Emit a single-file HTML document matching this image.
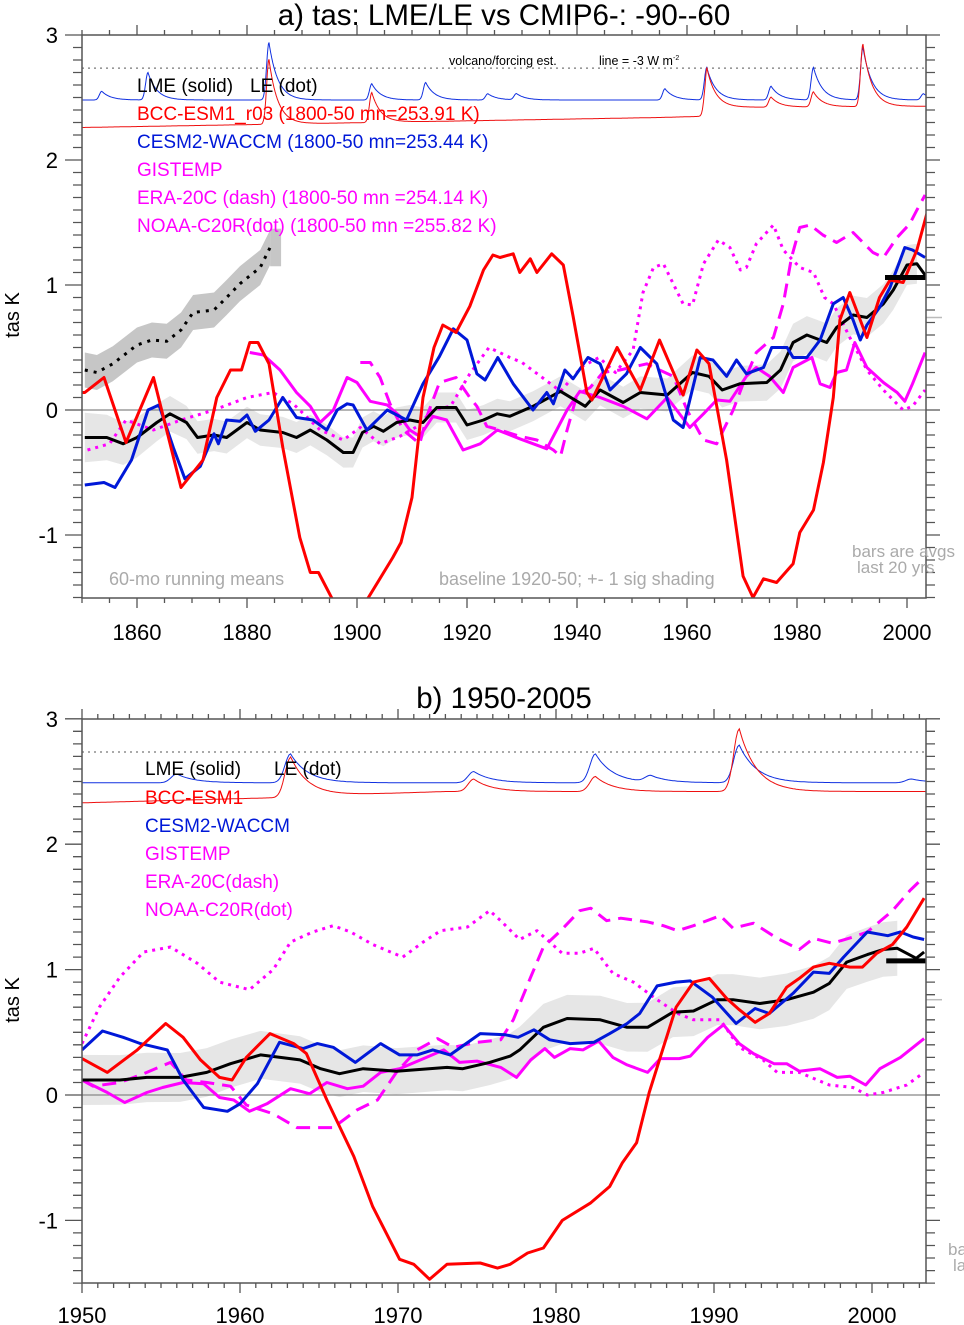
<!DOCTYPE html>
<html><head><meta charset="utf-8">
<style>
html,body{margin:0;padding:0;background:#fff;}
svg{display:block;font-family:"Liberation Sans",Arial,sans-serif;}
</style></head>
<body>
<svg id="chart" xmlns="http://www.w3.org/2000/svg" width="964" height="1325" viewBox="0 0 964 1325">
<defs>
<clipPath id="clipA"><rect x="82" y="35" width="844" height="563"/></clipPath>
<clipPath id="clipB"><rect x="82" y="719" width="844" height="564"/></clipPath>
</defs>
<g id="panelA"></g>
<g id="panelB"></g>
</svg>
<script>
// ---------------- Panel A data ----------------
const aRedYr=[1850,1850.5,1854,1858,1863,1868,1872,1874.5,1877,1879,1880.5,1882,1884,1886.5,1889.6,1891.5,1893,1895.6,1897,1900,1901.8,1906.5,1908,1910,1912,1914,1915.6,1918,1920.5,1923,1924.7,1926,1928.4,1929.6,1931.5,1932.7,1935.4,1937.5,1939.3,1941.8,1942.7,1947.3,1951.5,1955,1959.3,1961.8,1964,1967.2,1970.2,1972,1973.9,1976.3,1979.3,1980.5,1983,1984.8,1986.6,1987.8,1989.6,1992.7,1995,1996.9,1999.3,2001.8,2003.6];
const aRedV=[0.14,0.14,0.26,-0.26,0.26,-0.62,-0.4,0.1,0.32,0.32,0.54,0.54,0.37,-0.3,-1.02,-1.3,-1.3,-1.52,-1.75,-1.8,-1.52,-1.18,-1.06,-0.7,0.1,0.5,0.68,0.62,0.83,1.12,1.24,1.22,1.25,1.1,1.21,1.1,1.25,1.16,0.75,0.14,0.08,0.5,0.16,0.56,0.12,0.48,0.37,-0.4,-1.33,-1.5,-1.35,-1.38,-1.23,-0.98,-0.8,-0.42,0.1,0.72,0.94,0.58,0.9,1.04,1.02,1.28,1.57];
const aBlueYr=[1850.5,1854,1856,1859,1862,1864,1866.6,1868.7,1871.5,1874,1874.8,1876.3,1878.7,1880,1881.5,1884,1886.5,1889,1892,1894.5,1896.4,1898.2,1899.3,1901.8,1905.5,1909,1912,1915,1917.5,1920,1921.8,1923.3,1925.6,1928.4,1932,1934.5,1935.7,1937.8,1939.3,1942,1944.2,1946,1949,1951.5,1954.5,1957.5,1959.3,1962.4,1964.7,1967.2,1969,1970.8,1973.9,1975.4,1978.2,1979.3,1981.8,1984.2,1986.6,1988.4,1990.2,1991.5,1992.7,1995,1996.9,1999.6,2001,2003.3];
const aBlueV=[-0.6,-0.58,-0.62,-0.4,0,0.04,-0.3,-0.55,-0.45,-0.19,-0.27,-0.08,-0.09,-0.04,-0.17,-0.08,0.1,-0.06,-0.08,-0.16,0,0.05,0.04,-0.16,0,-0.08,0.21,0.43,0.65,0.56,0.29,0.24,0.42,0.21,0,0.14,0.05,0.32,0.25,0.42,0.37,0.16,0.29,0.5,0.37,-0.08,-0.14,0.42,0.4,0.27,0.4,0.29,0.34,0.5,0.5,0.42,0.42,0.56,0.85,0.9,0.72,0.56,0.68,0.82,0.98,1.3,1.28,1.22];
const aBlkYr=[1850.5,1854.5,1857.5,1860,1863.6,1866,1869,1871,1874,1876.3,1880,1882.4,1886.5,1889,1891.5,1894.5,1897.5,1899.3,1901,1903,1904.8,1907.2,1909.6,1912,1914.5,1918,1920,1923,1925.5,1927.8,1932,1937,1941.5,1944.2,1948.4,1951.5,1956.4,1961,1964,1966.4,1969.6,1974.5,1977,1979.3,1981.8,1985.4,1987.2,1990.2,1992.7,1995.7,1997.5,2000,2001.8,2003.3];
const aBlkV=[-0.22,-0.22,-0.27,-0.22,-0.1,-0.03,-0.1,-0.22,-0.2,-0.22,-0.1,-0.16,-0.18,-0.22,-0.16,-0.24,-0.34,-0.34,-0.18,-0.13,-0.17,-0.1,-0.08,-0.1,0.02,0.02,-0.12,-0.08,-0.03,-0.05,0.03,0.15,0.03,0.16,0.06,0.14,0.12,0.3,0.27,0.16,0.21,0.22,0.32,0.54,0.6,0.54,0.66,0.76,0.74,0.85,0.96,1.16,1.17,1.08];
const aSigYr=[1850,1860,1870,1900,1940,1980,2002];
const aSigV=[0.2,0.16,0.13,0.12,0.12,0.15,0.16];
const aGisYr=[1880.5,1883,1886,1889,1891.5,1893.3,1895.7,1898.2,1900,1902.4,1905.5,1907.8,1909.6,1911.4,1913.8,1916.3,1919.3,1922.4,1925.5,1929.6,1934.5,1938.2,1940.5,1944.2,1948.4,1952.7,1956.4,1960.5,1963,1965.4,1967.8,1970.8,1972.6,1975,1977.5,1979.3,1982.7,1984.2,1986,1987.2,1989,1990.5,1992.7,1995.7,1998.2,1999.6,2001,2003.3];
const aGisV=[0.46,0.44,0.32,0.14,0.03,-0.1,0,0.26,0.22,0.07,0.04,-0.05,-0.16,-0.21,-0.05,-0.08,-0.32,-0.27,-0.16,-0.23,-0.31,0,0.15,0.1,0.03,-0.07,0.1,-0.14,-0.03,0.08,0.07,0.27,0.34,0.27,0.14,0.34,0.42,0.21,0.18,0.3,0.32,0.54,0.34,0.22,0.14,0.07,0.21,0.46];
const aEraYr=[1900.6,1902.4,1904.2,1906,1908.4,1911.4,1912.7,1915,1918,1920.5,1921.8,1923.6,1926,1929.6,1932.7,1935.7,1937,1938.2,1940,1942.4,1944.7,1947.8,1952.7,1955,1957.5,1960,1963,1965.4,1968.4,1970.2,1972.6,1975.7,1977.5,1979,1980.5,1982.4,1984.7,1987.2,1990.2,1993.8,1995.7,1998.2,2000.5,2001.8,2003.3];
const aEraV=[0.38,0.38,0.26,0.05,-0.16,-0.27,-0.05,0.22,0.26,0.1,0.03,-0.13,-0.16,-0.21,-0.24,-0.32,-0.37,-0.16,0.12,0.18,0.3,0.32,0.37,0.32,0.27,0,-0.24,-0.27,0,0.21,0.46,0.58,0.85,1.22,1.46,1.48,1.4,1.34,1.42,1.26,1.22,1.38,1.49,1.6,1.72];
const aNoaYr=[1851,1855,1858,1863,1868,1874,1880,1884.7,1888.4,1893.3,1897.5,1900.6,1904.2,1907.8,1911,1913.8,1917,1920.5,1924,1927.8,1930,1934,1937,1941,1944,1947,1950.2,1952,1953.9,1955.7,1959.3,1961,1963,1965.7,1967.8,1969.7,1970.8,1972.6,1975.7,1977.5,1980.5,1983,1985,1986.6,1989.6,1992.7,1995.7,1999.3,2001,2003.3];
const aNoaV=[-0.32,-0.27,-0.08,-0.16,-0.08,0,0.1,0.14,0.05,-0.16,-0.24,-0.14,-0.27,-0.21,-0.13,0,0.03,0.29,0.5,0.42,0.38,0.25,0.15,0.35,0.42,0.3,0.48,0.94,1.14,1.17,0.85,0.84,1.17,1.36,1.3,1.12,1.14,1.33,1.48,1.28,1.14,1.1,0.9,0.85,0.58,0.32,0.16,0,0.03,0.16];
const aLeYr=[1850.5,1852.7,1855.6,1860,1862.7,1865.4,1868,1870.2,1874,1876.3,1878.7,1882.4,1884.2];
const aLeV=[0.32,0.3,0.37,0.52,0.56,0.55,0.64,0.78,0.8,0.9,1.01,1.14,1.3];
const aVolYr=[1853.6,1862,1884,1902.7,1912.5,1923.8,1929,1956,1963.6,1975.3,1983,1992,2003];
const aVolBlue=[0.07,0.22,0.46,0.13,0.14,0.05,0.05,0.09,0.26,0.11,0.26,0.42,0.05];
const aVolRed=[0,0,0.52,0.24,0,0,0,0,0.32,0.08,0.12,0.5,0];
const aRedBaseYr=[1850,1955,1963.3,1963.6,2004];
const aRedBaseV=[2.26,2.34,2.35,2.42,2.43];
const aBlueBase=2.48;
const aBarVal=1.06, aGrayBarVal=0.74, aBarStart=1996;
const aXTicks=[1860,1880,1900,1920,1940,1960,1980,2000];
const yTicks=[-1,0,1,2,3];

// ---------------- Panel B data ----------------
const bRedYr=[1950,1951.6,1953.5,1955.3,1956.4,1957.5,1958.7,1959.5,1960.4,1961.9,1963.4,1964.2,1965.5,1967.2,1968.4,1970.1,1971,1972,1973.1,1975.2,1976.3,1977.1,1978.2,1979.2,1980.4,1982.2,1983.4,1984.2,1985.1,1985.9,1986.8,1987.6,1988.7,1989.7,1990.8,1991.6,1992.6,1993.5,1994.6,1995.4,1996.3,1997.3,1998.6,1999.4,2000.3,2001.3,2002.2,2003.3];
const bRedV=[0.29,0.18,0.36,0.57,0.46,0.28,0.14,0.12,0.3,0.49,0.41,0.33,-0.04,-0.49,-0.89,-1.31,-1.35,-1.47,-1.35,-1.34,-1.38,-1.35,-1.26,-1.22,-1.0,-0.86,-0.73,-0.54,-0.38,0.02,0.38,0.7,0.9,0.93,0.77,0.68,0.58,0.65,0.86,0.93,1.02,1.05,1.02,1.02,1.13,1.2,1.34,1.57];
const bBlueYr=[1950,1951.3,1952.6,1953.7,1955.4,1956.4,1957.7,1959.2,1960,1961.1,1962.5,1964,1964.9,1965.9,1967.3,1968.9,1970.1,1971.2,1972.2,1973.3,1975.2,1976.8,1977.6,1978.6,1979.6,1980.9,1982.4,1983.4,1984.5,1985.3,1986.4,1987.6,1988.5,1989.9,1991.4,1992.6,1993.5,1995,1996.3,1997.3,1998.2,1999.7,2001,2001.8,2002.6,2003.3];
const bBlueV=[0.36,0.51,0.46,0.41,0.36,0.12,-0.1,-0.13,-0.07,0.09,0.42,0.37,0.41,0.38,0.26,0.41,0.32,0.32,0.36,0.32,0.49,0.48,0.46,0.52,0.44,0.41,0.42,0.49,0.57,0.65,0.87,0.9,0.91,0.78,0.57,0.69,0.65,0.81,0.98,0.97,1.1,1.3,1.27,1.3,1.26,1.24];
const bBlkYr=[1950,1952.4,1954.1,1956.2,1957.9,1959.4,1961.3,1963.8,1965.1,1966.3,1967.8,1969.9,1973.1,1974.1,1975.8,1977.1,1977.7,1979.2,1980.7,1982.8,1984.5,1985.8,1987.4,1988.7,1990.2,1991.2,1992.9,1994.6,1996.3,1997.3,1998.4,1999.7,2000.7,2001.6,2002.8,2003.3];
const bBlkV=[0.12,0.12,0.14,0.14,0.18,0.25,0.32,0.28,0.21,0.17,0.21,0.19,0.22,0.21,0.26,0.31,0.36,0.54,0.61,0.6,0.54,0.54,0.66,0.67,0.76,0.76,0.73,0.76,0.82,0.89,1.06,1.12,1.16,1.17,1.09,1.14];
const bSigYr=[1950,1975,2002.3];
const bSigV=[0.2,0.18,0.22];
const bGisYr=[1950,1951.6,1952.7,1954.1,1955.1,1956.4,1957.7,1958.7,1959.6,1960.6,1961.7,1963.2,1964.4,1965.5,1966.8,1967.8,1968.9,1970.1,1971.8,1972.9,1973.9,1975,1976.5,1977.5,1978.4,1979.3,1979.9,1980.9,1981.7,1982.7,1983.6,1984.5,1985.8,1986.6,1987.8,1988.5,1989.6,1990.6,1991.6,1992.5,1993.8,1994.6,1995.4,1996.7,1997.8,1998.6,1999.6,2000.5,2001.8,2003.3];
const bGisV=[0.12,0.02,-0.06,0.02,0.06,0.1,0.09,-0.02,-0.04,-0.13,-0.07,0.05,0.01,0.1,0.05,0.07,0.18,0.21,0.3,0.36,0.26,0.27,0.22,0.14,0.28,0.37,0.3,0.37,0.36,0.43,0.3,0.24,0.18,0.29,0.29,0.31,0.46,0.56,0.41,0.33,0.25,0.25,0.19,0.21,0.14,0.15,0.08,0.21,0.3,0.45];
const bEraYr=[1950,1950.7,1952.4,1953.9,1955.6,1956.6,1957.9,1959.4,1960.4,1962.1,1963.6,1965.9,1967.4,1968.7,1969.9,1971.2,1972.5,1973.5,1975,1976.5,1977.3,1978.4,1979.2,1980.3,1981.5,1982.2,1983.2,1984.1,1985.8,1986.8,1987.7,1988.7,1990.4,1991.2,1992.5,1994,1995.4,1996.3,1997.5,1998.8,1999.7,2001.3,2002.4,2003.3];
const bEraV=[0.12,0.07,0.1,0.17,0.26,0.12,0.1,0.07,-0.08,-0.15,-0.26,-0.26,-0.12,-0.04,0.18,0.36,0.45,0.38,0.42,0.44,0.6,0.94,1.18,1.31,1.47,1.49,1.39,1.41,1.38,1.35,1.31,1.35,1.43,1.33,1.37,1.25,1.16,1.25,1.21,1.26,1.3,1.47,1.63,1.74];
const bNoaYr=[1950,1951.1,1952.4,1953.9,1955.6,1957.3,1958.7,1960.6,1962.1,1963.2,1964.6,1965.9,1967,1968.4,1970.3,1971.6,1972.7,1974.4,1975.8,1976.5,1977.7,1978.8,1980.4,1981.5,1982.4,1983.6,1984.9,1986.4,1987.7,1988.7,1990.4,1991.6,1993.1,1994,1995.4,1997.3,1998.8,1999.7,2000.7,2002.2,2003.3];
const bNoaV=[0.41,0.7,0.94,1.14,1.18,1.05,0.9,0.84,1.0,1.22,1.3,1.35,1.3,1.2,1.1,1.22,1.31,1.34,1.47,1.39,1.24,1.31,1.13,1.13,1.17,0.97,0.9,0.76,0.65,0.6,0.6,0.38,0.28,0.18,0.18,0.08,0.06,0,0.02,0.08,0.18];
const bVolYr=[1956,1963.2,1974.8,1982.5,1986,1991.6,2002.5];
const bVolBlue=[0.07,0.23,0.09,0.23,0.05,0.3,0.03];
const bVolRed=[0,0.32,0.1,0.12,0,0.5,0];
const bRedBaseYr=[1950,1962,1963.1,1963.3,1973,2004];
const bRedBaseV=[2.33,2.37,2.37,2.38,2.42,2.42];
const bBlueBase=2.49;
const bBarVal=1.07, bGrayBarVal=0.76, bBarStart=2000.9;
const bXTicks=[1950,1960,1970,1980,1990,2000];

// ---------------- helpers ----------------
const NS="http://www.w3.org/2000/svg";
function mk(parent,tag,attrs,text){const e=document.createElementNS(NS,tag);for(const k in attrs)e.setAttribute(k,attrs[k]);if(text!==undefined)e.textContent=text;parent.appendChild(e);return e;}
function interp(xs,vs,t){if(t<=xs[0])return vs[0];for(let i=1;i<xs.length;i++){if(t<=xs[i]){const f=(t-xs[i-1])/(xs[i]-xs[i-1]);return vs[i-1]+f*(vs[i]-vs[i-1]);}}return vs[vs.length-1];}
function pathFrom(xs,vs,X,Y){const n=Math.min(xs.length,vs.length);let d="";for(let i=0;i<n;i++){d+=(i?"L":"M")+X(xs[i]).toFixed(1)+","+Y(vs[i]).toFixed(1);}return d;}
function volcSeries(yrs,amps,baseFn,x0,x1,rise,tau){const xs=[],vs=[];for(let t=x0;t<=x1+1e-6;t+=0.1){let v=baseFn(t);for(let i=0;i<yrs.length;i++){const d=t-yrs[i];v+=amps[i]*(d<0?Math.exp(-(d*d)/(rise*rise)):Math.exp(-d/tau));}xs.push(t);vs.push(v);}return [xs,vs];}

function buildPanel(cfg){
  const g=cfg.g;const X=cfg.X,Y=cfg.Y;
  const plot=mk(g,"g",{"clip-path":"url(#"+cfg.clip+")"});
  
  
  const sx=[],up=[],lo=[];
  const nb=Math.min(cfg.blkYr.length,cfg.blkV.length);
  for(let i=0;i<nb;i++){if(cfg.blkYr[i]>cfg.sigEnd)break;const s=interp(cfg.sigYr,cfg.sigV,cfg.blkYr[i]);sx.push(cfg.blkYr[i]);up.push(cfg.blkV[i]+s);lo.push(cfg.blkV[i]-s);}
  let d=pathFrom(sx,up,X,Y);for(let i=sx.length-1;i>=0;i--)d+="L"+X(sx[i]).toFixed(1)+","+Y(lo[i]).toFixed(1);
  const sh=mk(plot,"path",{d:d+"Z",fill:"#e6e6e6",stroke:"none"});
  
  
  if(cfg.leYr){
    const lx=cfg.leYr.slice(),lu=cfg.leV.map(v=>v+0.14),ll=cfg.leV.map(v=>v-0.14);
    let dl=pathFrom(lx,lu,X,Y);for(let i=lx.length-1;i>=0;i--)dl+="L"+X(lx[i]).toFixed(1)+","+Y(ll[i]).toFixed(1);
    const lb=mk(plot,"path",{d:dl+"Z",fill:"#c6c6c6"});
    
    
    const blk=mk(plot,"rect",{x:X(1884.2),y:Y(1.45),width:X(1886.2)-X(1884.2),height:Y(1.15)-Y(1.45),fill:"#c6c6c6"});
    
    
  }
  const z=mk(plot,"line",{x1:82,x2:926,y1:Y(0),y2:Y(0),stroke:"#888","stroke-width":1.3});
  
  
  const vl=mk(plot,"line",{x1:82,x2:926,y1:Y(2.735),y2:Y(2.735),stroke:"#777","stroke-width":1.2,"stroke-dasharray":"2 4"});
  
  
  const vb=volcSeries(cfg.volYr,cfg.volBlue,()=>cfg.blueBase,cfg.x0,cfg.x1,cfg.rise,cfg.tau);
  const vbp=mk(plot,"path",{d:pathFrom(vb[0],vb[1],X,Y),fill:"none",stroke:"#1030e0","stroke-width":1});
  
  
  const vr=volcSeries(cfg.volYr,cfg.volRed,t=>interp(cfg.redBaseYr,cfg.redBaseV,t),cfg.x0,cfg.x1,cfg.rise,cfg.tau);
  const vrp=mk(plot,"path",{d:pathFrom(vr[0],vr[1],X,Y),fill:"none",stroke:"#ee1010","stroke-width":1});
  
  
  const S=[
    [cfg.noaYr,cfg.noaV,"#ff00ff","3 5","noaa-c20r-line"],
    [cfg.eraYr,cfg.eraV,"#ff00ff","14 8","era-20c-line"],
    [cfg.gisYr,cfg.gisV,"#ff00ff",null,"gistemp-line"],
    [cfg.blkYr,cfg.blkV,"#000000",null,"lme-mean-line"],
    [cfg.blueYr,cfg.blueV,"#0018d8",null,"cesm2-waccm-line"],
    [cfg.redYr,cfg.redV,"#ff0000",null,"bcc-esm1-line"]
  ];
  if(cfg.leYr)S.unshift([cfg.leYr,cfg.leV,"#000000","3 6","le-mean-line"]);
  for(const s of S){
    const a={d:pathFrom(s[0],s[1],X,Y),fill:"none",stroke:s[2],"stroke-width":3,"stroke-linejoin":"round"};
    if(s[3])a["stroke-dasharray"]=s[3];
    const p=mk(plot,"path",a);
    
    
  }
  const bar=mk(g,"line",{x1:X(cfg.barStart),x2:926,y1:Y(cfg.barVal),y2:Y(cfg.barVal),stroke:"#000","stroke-width":5});
  
  
  const gb=mk(g,"line",{x1:926,x2:942,y1:Y(cfg.grayBarVal),y2:Y(cfg.grayBarVal),stroke:"#bbb","stroke-width":1.5});
  
  
  const fr=mk(g,"rect",{x:82,y:cfg.top,width:844,height:cfg.bot-cfg.top,fill:"none",stroke:"#555","stroke-width":1.5});
  
  
  let td="";
  for(let k=-15;k<=30;k++){const v=k/10;const y=Y(v);if(y<cfg.top-0.5||y>cfg.bot+0.5)continue;const maj=(k%10===0);td+="M"+(82-(maj?17:9))+","+y.toFixed(1)+"H82";td+="M926,"+y.toFixed(1)+"H"+(926+(maj?14:9));}
  for(let t=cfg.minorStart;t<=cfg.x1;t+=cfg.minorStep){const x=X(t);if(x<81||x>927)continue;const maj=cfg.xTicks.some(m=>Math.abs(m-t)<1e-6);td+="M"+x.toFixed(1)+","+cfg.bot+"V"+(cfg.bot+(maj?10:5));td+="M"+x.toFixed(1)+","+cfg.top+"V"+(cfg.top-(maj?10:5));}
  const tk=mk(g,"path",{d:td,stroke:"#555","stroke-width":1.3,fill:"none"});
  
  
  for(const v of yTicks){const t=mk(g,"text",{x:58,y:Y(v)+8,"text-anchor":"end","font-size":22,fill:"#000"},String(v));
    
    }
  for(const v of cfg.xTicks){const t=mk(g,"text",{x:X(v),y:cfg.bot+cfg.xLabOff,"text-anchor":"middle","font-size":22,fill:"#000"},String(v));
    
    }
  const yt=mk(g,"text",{x:0,y:0,transform:"translate(19,"+cfg.ytY+") rotate(-90)","text-anchor":"middle","font-size":20,fill:"#000"},"tas K");
  
  
}

const gA=document.getElementById("panelA");
const XA=t=>82+(t-1850)*5.5, YA=v=>410-125*v;
buildPanel({g:gA,X:XA,Y:YA,clip:"clipA",top:35,bot:598,x0:1850,x1:2003.4,sigEnd:2002.2,rise:0.6,tau:1.6,
 redYr:aRedYr,redV:aRedV,blueYr:aBlueYr,blueV:aBlueV,blkYr:aBlkYr,blkV:aBlkV,sigYr:aSigYr,sigV:aSigV,
 gisYr:aGisYr,gisV:aGisV,eraYr:aEraYr,eraV:aEraV,noaYr:aNoaYr,noaV:aNoaV,leYr:aLeYr,leV:aLeV,
 volYr:aVolYr,volBlue:aVolBlue,volRed:aVolRed,redBaseYr:aRedBaseYr,redBaseV:aRedBaseV,blueBase:aBlueBase,
 barVal:aBarVal,grayBarVal:aGrayBarVal,barStart:aBarStart,xTicks:aXTicks,minorStart:1850,minorStep:5,xLabOff:42,ytY:315});

const gB=document.getElementById("panelB");
const XB=t=>82+(t-1950)*15.8, YB=v=>1095-125.4*v;
buildPanel({g:gB,X:XB,Y:YB,clip:"clipB",top:719,bot:1283,x0:1950,x1:2003.4,sigEnd:2002.3,rise:0.5,tau:1.1,
 redYr:bRedYr,redV:bRedV,blueYr:bBlueYr,blueV:bBlueV,blkYr:bBlkYr,blkV:bBlkV,sigYr:bSigYr,sigV:bSigV,
 gisYr:bGisYr,gisV:bGisV,eraYr:bEraYr,eraV:bEraV,noaYr:bNoaYr,noaV:bNoaV,leYr:null,leV:null,
 volYr:bVolYr,volBlue:bVolBlue,volRed:bVolRed,redBaseYr:bRedBaseYr,redBaseV:bRedBaseV,blueBase:bBlueBase,
 barVal:bBarVal,grayBarVal:bGrayBarVal,barStart:bBarStart,xTicks:bXTicks,minorStart:1950,minorStep:1,xLabOff:40,ytY:1000});
</script>
<svg style="position:absolute;left:0;top:0" width="964" height="1325" xmlns="http://www.w3.org/2000/svg" font-family="Liberation Sans, Arial, sans-serif">
<text x="504" y="25" text-anchor="middle" font-size="29.5">a) tas: LME/LE vs CMIP6-: -90--60</text>
<text x="504" y="708" text-anchor="middle" font-size="29.5">b) 1950-2005</text>
<g font-size="19">
<text x="137" y="92" fill="#000">LME (solid)</text>
<text x="250" y="92" fill="#000">LE (dot)</text>
<text x="137" y="120" fill="#ff0000">BCC-ESM1_r03 (1800-50 mn=253.91 K)</text>
<text x="137" y="148" fill="#0018d8">CESM2-WACCM (1800-50 mn=253.44 K)</text>
<text x="137" y="176" fill="#ff00ff">GISTEMP</text>
<text x="137" y="204" fill="#ff00ff">ERA-20C (dash) (1800-50 mn =254.14 K)</text>
<text x="137" y="232" fill="#ff00ff">NOAA-C20R(dot) (1800-50 mn =255.82 K)</text>
</g>
<g font-size="19">
<text x="145" y="775" fill="#000">LME (solid)</text>
<text x="274" y="775" fill="#000">LE (dot)</text>
<text x="145" y="804" fill="#ff0000">BCC-ESM1</text>
<text x="145" y="832" fill="#0018d8">CESM2-WACCM</text>
<text x="145" y="860" fill="#ff00ff">GISTEMP</text>
<text x="145" y="888" fill="#ff00ff">ERA-20C(dash)</text>
<text x="145" y="916" fill="#ff00ff">NOAA-C20R(dot)</text>
</g>
<text x="449" y="65" font-size="12.5">volcano/forcing est.</text>
<text x="599" y="65" font-size="12.5">line = -3 W m<tspan font-size="7" dy="-5">-2</tspan></text>
<text x="109" y="585" font-size="18" fill="#aaa">60-mo running means</text>
<text x="439" y="585" font-size="18" fill="#aaa">baseline 1920-50; +- 1 sig shading</text>
<text x="852" y="557" font-size="17" fill="#aaa">bars are avgs</text>
<text x="857" y="573" font-size="17" fill="#aaa">last 20 yrs</text>
<text x="948" y="1255" font-size="17" fill="#aaa">bars are avgs</text>
<text x="953" y="1271" font-size="17" fill="#aaa">last 20 yrs</text>
</svg>
</body></html>
